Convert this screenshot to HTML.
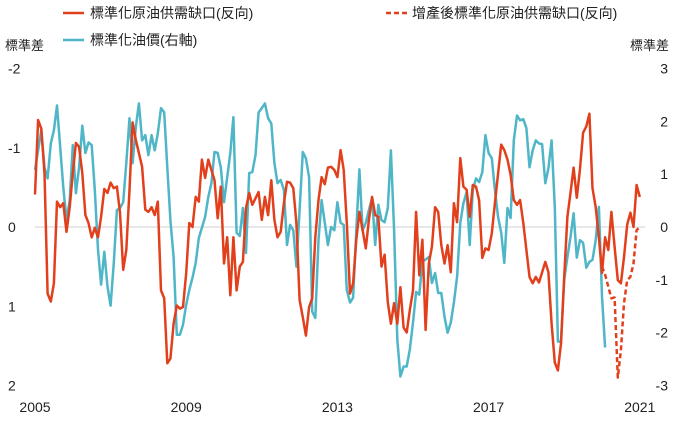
<!DOCTYPE html>
<html><head><meta charset="utf-8"><style>
body{margin:0;background:#fff;}
svg text{font-family:"Liberation Sans","Noto Sans CJK TC",sans-serif;fill:#222;}
</style></head><body>
<svg id="chart" width="680" height="417" viewBox="0 0 680 417" xmlns="http://www.w3.org/2000/svg">
<g>
<line x1="63" y1="13" x2="84" y2="13" stroke="#e2401c" stroke-width="2.5"/>
<text x="90" y="18" font-size="14">標準化原油供需缺口(反向)</text>
<line x1="386" y1="13" x2="407" y2="13" stroke="#e2401c" stroke-width="2.5" stroke-dasharray="5,3"/>
<text x="412" y="18" font-size="14">增產後標準化原油供需缺口(反向)</text>
<line x1="63" y1="40" x2="84" y2="40" stroke="#4fb6c8" stroke-width="2.5"/>
<text x="90" y="45" font-size="14">標準化油價(右軸)</text>
</g>
<text x="5" y="50" font-size="13">標準差</text>
<text x="630" y="50" font-size="13">標準差</text>
<line x1="35" y1="227" x2="645" y2="227" stroke="#d0d0d0" stroke-width="1"/>
<g id="axes"></g>
<g id="series"></g>
</svg>
<script>
const leftTicks=[-2,-1,0,1,2];
const rightTicks=[3,2,1,0,-1,-2,-3];
const yearTicks=[2005,2009,2013,2017,2021];
const gapMonths=[0,1,2,3,4,5,6,7,8,9,10,11,12,13,14,15,16,17,18,19,20,21,22,23,24,25,26,27,28,29,30,31,32,34,35,36,37,38,39,40,41,42,43,44,45,46,47,48,49,50,51,52,53,54,55,56,57,58,59,60,61,62,63,64,65,66,67,68,69,71,72,73,74,75,76,77,78,79,80,81,82,83,84,85,86,87,88,89,90,91,92,93,94,95,96,97,98,99,100,101,102,103,104,105,106,107,108,109,110,111,112,113,114,115,116,117,118,119,120,121,122,123,124,125,126,127,128,129,130,131,132,133,134,135,136,137,138,139,140,141,142,143,144,145,146,148,149,150,151,152,153,154,155,156,157,158,159,160,162,163,164,165,166,167,168,169,170,171,172,173,174,175,176,177,178,179,180,181,182,183,184,185,186,187,188,189,190,191,192];
const gapValues=[-0.41,-1.35,-1.24,-0.68,0.84,0.94,0.71,-0.32,-0.25,-0.3,0.06,-0.25,-0.68,-1.06,-1.01,-0.68,-0.15,-0.05,0.13,0.01,0.13,-0.13,-0.48,-0.43,-0.56,-0.49,-0.51,-0.18,0.54,0.29,-0.47,-1.32,-1.1,-0.76,-0.22,-0.19,-0.25,-0.15,-0.32,0.8,0.9,1.72,1.66,1.22,0.99,1.03,1.01,0.58,-0.05,0,-0.38,-0.32,-0.85,-0.62,-0.85,-0.72,-0.59,-0.11,-0.51,0.46,0.13,0.86,0.13,0.8,0.5,0.44,-0.24,-0.43,-0.28,-0.44,-0.09,-0.38,-0.15,-0.59,-0.09,0.13,0.06,-0.3,-0.57,-0.56,-0.49,-0.05,0.92,1.14,1.37,1.01,0.9,0.13,-0.34,-0.63,-0.54,-0.75,-0.76,-0.72,-0.63,-0.97,-0.72,-0.05,0.84,0.71,0.16,-0.19,0.04,0.27,-0.09,-0.38,-0.15,-0.13,0.5,0.35,0.95,1.22,0.96,1.22,0.76,1.27,1.33,1.05,0.8,-0.19,0.61,0.16,1.3,0.46,0.25,-0.25,-0.19,0.23,0.46,0.23,0.57,-0.3,-0.06,-0.87,-0.51,-0.47,-0.13,-0.53,-0.51,-0.34,0.39,0.27,0.29,0.08,-0.3,-1.04,-0.97,-0.85,-0.66,-0.34,-0.28,-0.34,-0.05,0.29,0.63,0.71,0.63,0.7,0.44,0.57,1.22,1.71,1.81,1.47,0.63,-0.13,-0.43,-0.75,-0.37,-0.72,-1.19,-1.27,-1.43,-0.49,-0.25,0.13,0.58,0.13,0.29,-0.19,0.25,0.67,0.71,0.38,-0.03,-0.18,0,-0.53,-0.38];
const adjMonths=[180,181,183,184,185,186,187,188,189,190,191,192];
const adjValues=[0.5,0.6,0.9,0.89,1.9,1.56,0.96,0.67,0.63,0.46,0.04,0];
const oilMonths=[0,1,2,3,4,5,6,7,8,9,10,11,12,13,14,15,16,17,18,19,20,21,22,23,24,25,26,27,28,29,30,31,32,33,34,35,36,37,38,39,40,41,42,43,44,45,46,47,48,49,50,51,52,54,55,56,57,58,59,60,61,62,63,64,65,66,67,68,69,70,71,72,73,74,75,76,77,78,79,80,81,82,83,84,85,86,87,88,89,90,91,92,93,94,95,96,97,98,99,100,101,102,103,104,105,106,107,108,109,110,111,112,113,114,115,116,117,118,119,120,121,122,123,125,126,127,128,129,130,131,132,133,134,135,136,137,138,139,140,141,142,143,144,145,146,147,148,149,150,151,152,153,154,155,156,157,158,159,160,161,162,163,164,165,166,167,168,169,170,171,172,173,174,175,176,177,178,179,180,181];
const oilValues=[1.08,1.45,1.83,1.13,0.92,1.58,1.83,2.3,1.51,0.75,0.13,0.51,1.55,0.64,1.13,1.92,1.4,1.6,1.55,0.7,-0.43,-1.09,-0.47,-1.13,-1.49,-0.68,0.32,0.36,0.47,1.21,2.06,1.21,1.89,2.34,1.64,1.74,1.36,1.74,1.45,1.77,2.25,2.17,1.13,0.13,-0.57,-2.04,-2.04,-1.85,-1.47,-1.19,-0.96,-0.68,-0.21,0.19,0.57,0.83,1.42,1.4,1.13,0.47,0.94,1.4,2.08,-0.11,-0.17,0.36,-0.49,1.02,1.04,1.36,2.17,2.25,2.34,2.06,1.96,1.21,0.83,0.89,0.7,-0.34,0.04,-0.06,-0.75,0.32,1.42,1.3,0.94,-1.6,-1.72,-0.25,0.51,0.08,-0.34,0,-0.06,0.47,0.08,0.04,-1.19,-1.43,-1.34,-0.06,1.09,-0.06,0.08,0.32,0.55,-0.34,0.42,0.13,0.09,0.36,1.45,-0.06,-2.13,-2.83,-2.64,-2.64,-2.32,-1.81,-1.23,-1.28,-0.66,-0.57,-1.06,-0.87,-1.25,-1.25,-1.7,-2.0,-1.81,-1.43,-0.94,0.08,0.45,0.66,-0.34,0.7,0.92,0.85,1.04,1.74,1.4,1.3,0.7,0.19,-0.11,-0.68,0.36,0.17,1.64,2.11,2.02,2.04,1.87,1.13,1.45,1.64,1.58,1.57,0.83,1.11,1.64,0.38,-2.17,-2.17,-1.0,-0.57,-0.19,0.26,-0.58,-0.25,-0.3,-0.77,-0.66,-0.62,-0.25,0.38,-1.32,-2.28];

const NS='http://www.w3.org/2000/svg';
function xScale(m){return 35+m*3.15;}
function yLeft(v){return 227+v*79.25;}
function yRight(v){return 227-v*52.83;}
const axes=document.getElementById('axes');
const series=document.getElementById('series');
function txt(x,y,s,anchor,name){
  const t=document.createElementNS(NS,'text');
  t.setAttribute('x',x);t.setAttribute('y',y);t.setAttribute('font-size','14');
  t.setAttribute('text-anchor',anchor);t.textContent=s;
  
  
  axes.appendChild(t);
}
leftTicks.forEach(v=>txt(8,yLeft(v)+5,String(v),'start','left-tick-label'));
rightTicks.forEach(v=>txt(668,yRight(v)+5,String(v),'end','right-tick-label'));
yearTicks.forEach(y=>txt(xScale((y-2005)*12),412,String(y),'middle','x-tick-label'));
function line(ms,vs,sc,color,dash,name){
  const p=document.createElementNS(NS,'polyline');
  p.setAttribute('points',ms.map((m,i)=>xScale(m).toFixed(1)+','+sc(vs[i]).toFixed(1)).join(' '));
  p.setAttribute('fill','none');p.setAttribute('stroke',color);p.setAttribute('stroke-width','2.5');
  p.setAttribute('stroke-linejoin','round');
  if(dash)p.setAttribute('stroke-dasharray',dash);
  
  
  series.appendChild(p);
}
line(oilMonths,oilValues,yRight,'#4fb6c8',null,'oil-price-line');
line(gapMonths,gapValues,yLeft,'#e2401c',null,'supply-gap-line');
line(adjMonths,adjValues,yLeft,'#e2401c','5,3','adjusted-supply-gap-line');
</script>
</body></html>
